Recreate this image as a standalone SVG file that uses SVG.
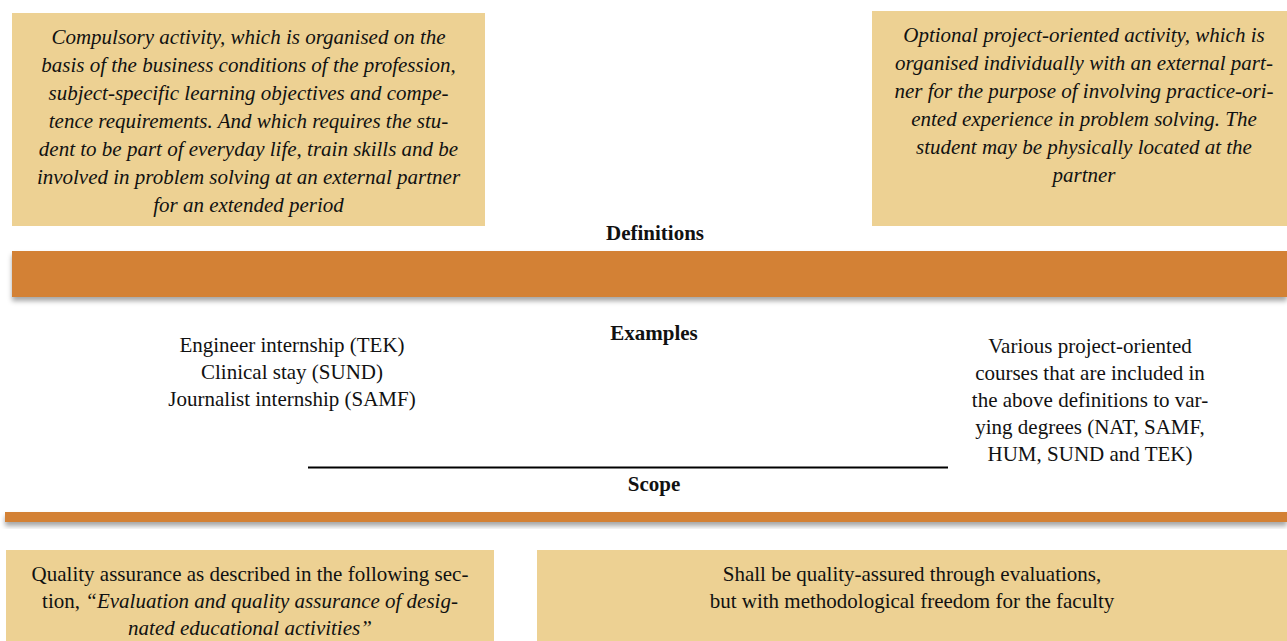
<svg xmlns="http://www.w3.org/2000/svg" width="1287" height="641" viewBox="0 0 1287 641">
<defs>
<style>
.box{fill:#EDD193}
.bar{fill:#D38135}
.t{font-family:"Liberation Serif","Times New Roman",serif;font-size:21px;fill:#111;text-anchor:middle}
.i{font-style:italic}
.b{font-weight:bold}
</style>
<filter id="sh" x="-5%" y="-50%" width="110%" height="220%">
<feDropShadow dx="0" dy="4" stdDeviation="2.5" flood-color="#000" flood-opacity="0.35"/>
</filter>
</defs>
<rect width="1287" height="641" fill="#fff"/>
<g id="def-left">
<rect class="box" x="12" y="13" width="473" height="213"/>
<text class="t i"><tspan x="248.5" y="44">Compulsory activity, which is organised on the</tspan><tspan x="248.5" y="72">basis of the business conditions of the profession,</tspan><tspan x="248.5" y="100">subject-specific learning objectives and compe-</tspan><tspan x="248.5" y="128">tence requirements. And which requires the stu-</tspan><tspan x="248.5" y="156">dent to be part of everyday life, train skills and be</tspan><tspan x="248.5" y="184">involved in problem solving at an external partner</tspan><tspan x="248.5" y="212">for an extended period</tspan></text>
</g>
<g id="def-right">
<rect class="box" x="872" y="11" width="415" height="215"/>
<text class="t i"><tspan x="1084" y="42">Optional project-oriented activity, which is</tspan><tspan x="1084" y="70">organised individually with an external part-</tspan><tspan x="1084" y="98">ner for the purpose of involving practice-ori-</tspan><tspan x="1084" y="126">ented experience in problem solving. The</tspan><tspan x="1084" y="154">student may be physically located at the</tspan><tspan x="1084" y="182">partner</tspan></text>
</g>
<g id="definitions">
<text class="t b" x="655" y="240">Definitions</text>
<rect class="bar" x="12" y="251" width="1275" height="46" filter="url(#sh)"/>
</g>
<g id="examples">
<text class="t b" x="654" y="340">Examples</text>
</g>
<g id="ex-left">
<text class="t"><tspan x="292" y="352">Engineer internship (TEK)</tspan><tspan x="292" y="379">Clinical stay (SUND)</tspan><tspan x="292" y="406">Journalist internship (SAMF)</tspan></text>
</g>
<g id="ex-right">
<text class="t"><tspan x="1090" y="353">Various project-oriented</tspan><tspan x="1090" y="380">courses that are included in</tspan><tspan x="1090" y="407">the above definitions to var-</tspan><tspan x="1090" y="434">ying degrees (NAT, SAMF,</tspan><tspan x="1090" y="461">HUM, SUND and TEK)</tspan></text>
</g>
<g id="connectors">
<line x1="308" y1="467.5" x2="948" y2="467.5" stroke="#000" stroke-width="2"/>
</g>
<g id="scope">
<text class="t b" x="654" y="491">Scope</text>
<rect class="bar" x="5" y="512" width="1282" height="10" filter="url(#sh)"/>
</g>
<g id="scope-left">
<rect class="box" x="6" y="550" width="488" height="91"/>
<text class="t"><tspan x="250" y="581">Quality assurance as described in the following sec-</tspan><tspan x="250" y="608">tion, <tspan class="i">“Evaluation and quality assurance of desig-</tspan></tspan><tspan x="250" y="635" class="i">nated educational activities”</tspan></text>
</g>
<g id="scope-right">
<rect class="box" x="537" y="550" width="750" height="91"/>
<text class="t"><tspan x="912" y="581">Shall be quality-assured through evaluations,</tspan><tspan x="912" y="608">but with methodological freedom for the faculty</tspan></text>
</g>
</svg>
